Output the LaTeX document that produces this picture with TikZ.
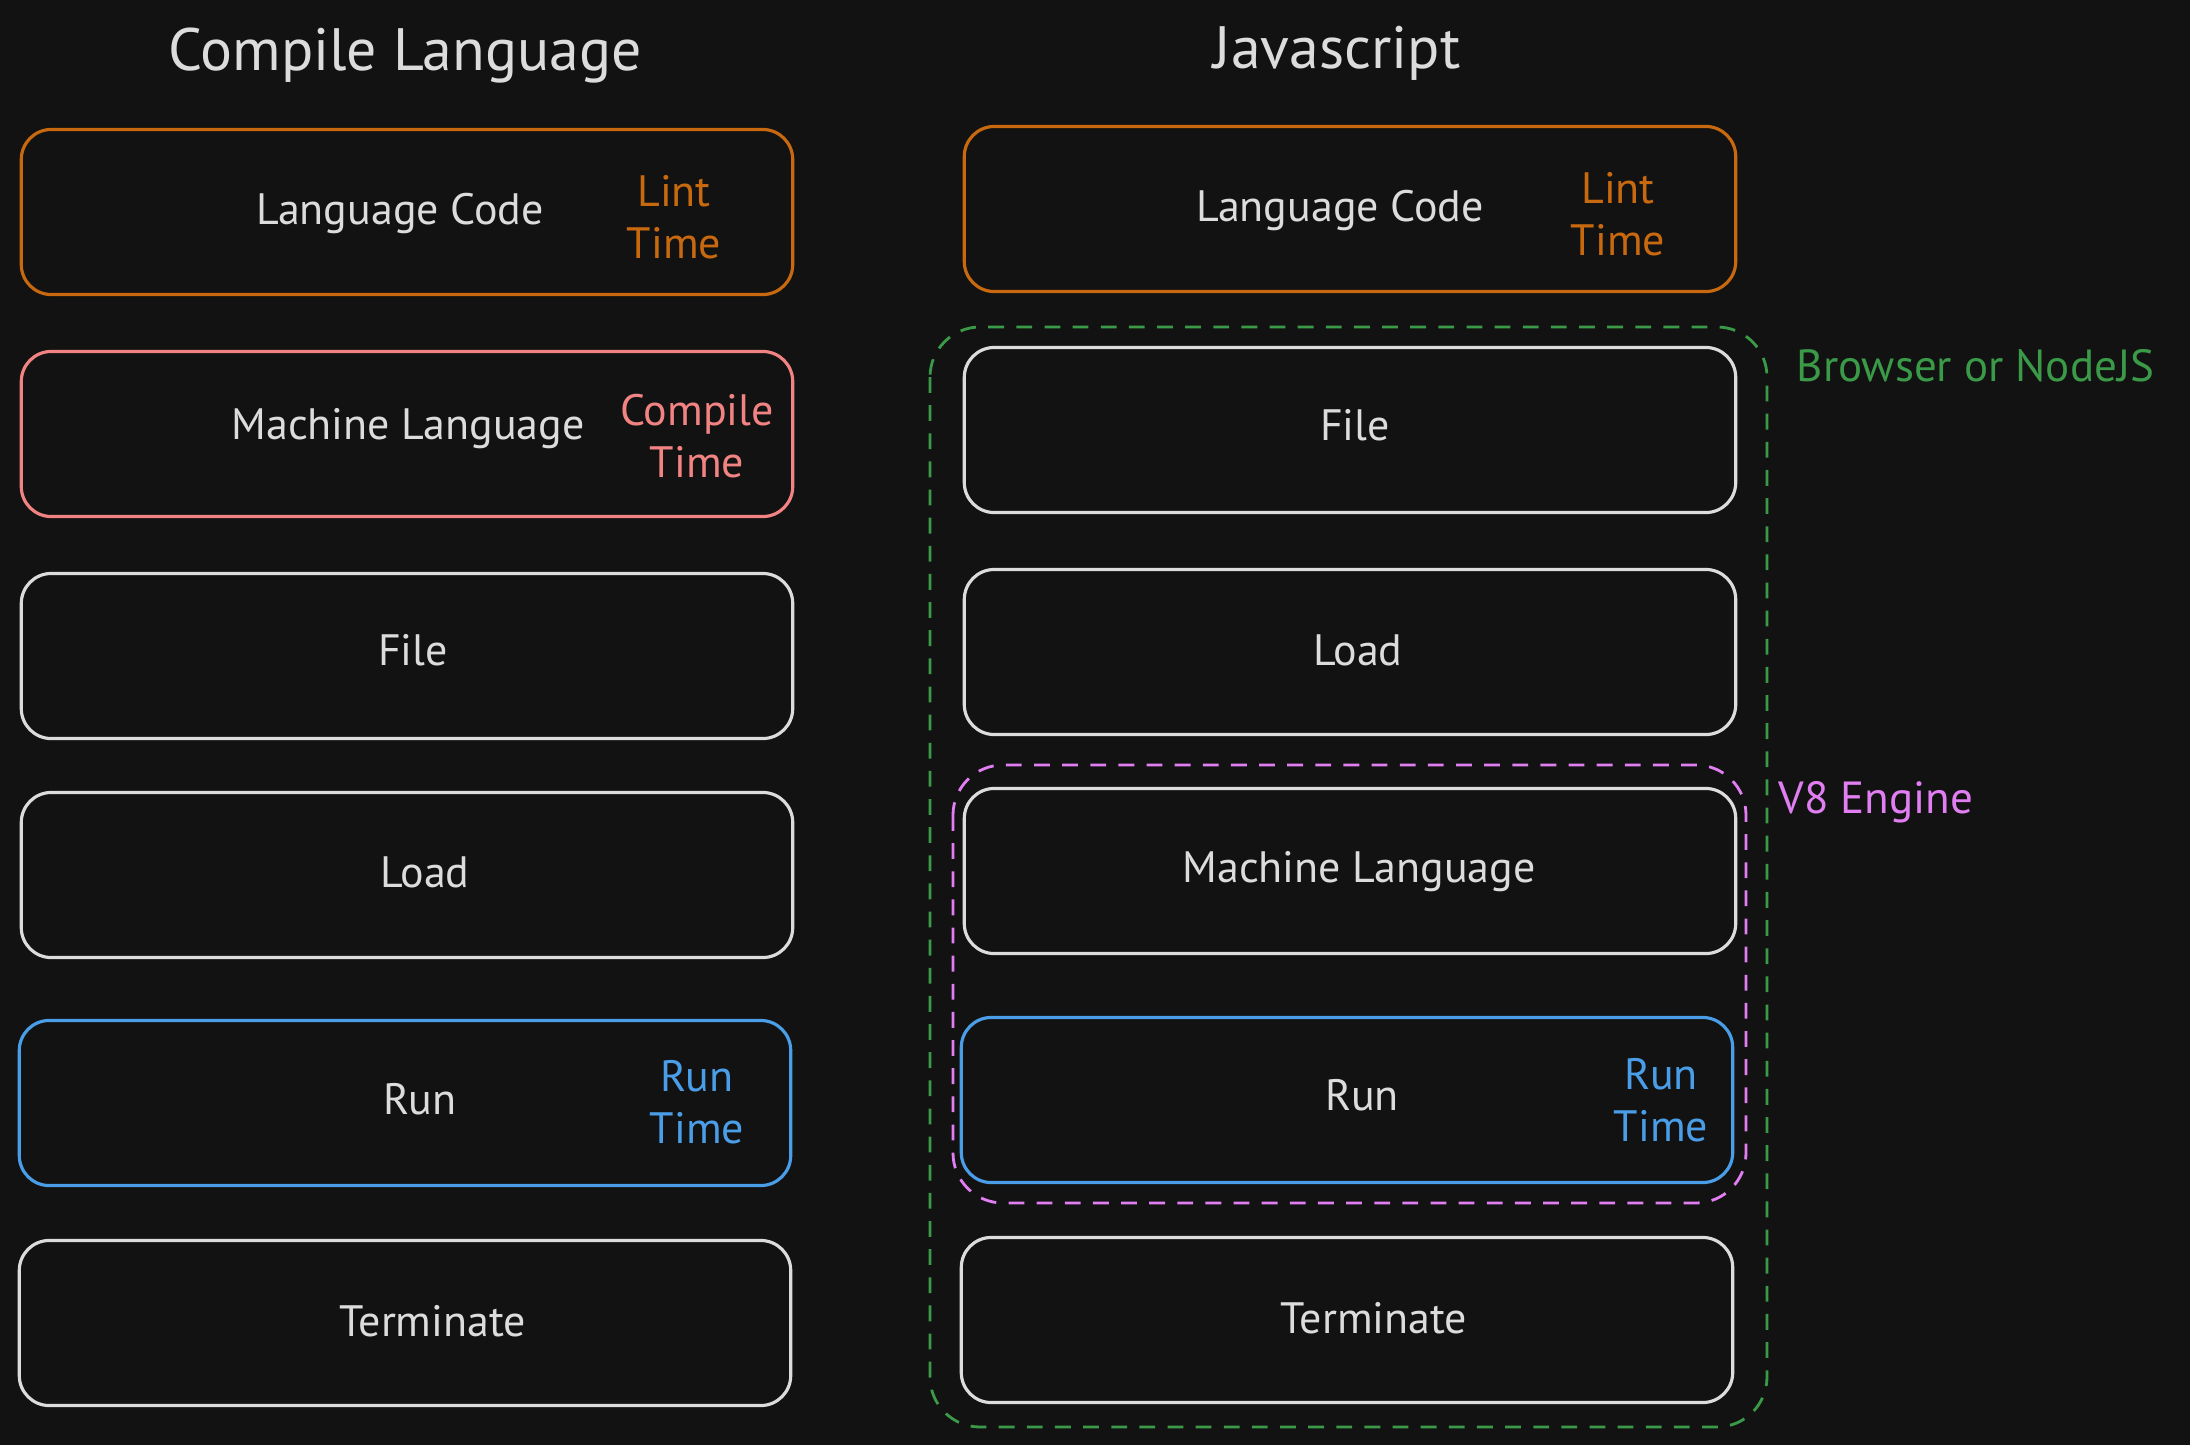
\documentclass[tikz,border=0pt]{standalone}
\usepackage{fontspec}
\setmainfont{PT Sans}
\definecolor{bg}{HTML}{121212}
\definecolor{ink}{HTML}{DCDCDC}
\definecolor{orng}{HTML}{C8690F}
\definecolor{pnk}{HTML}{F28383}
\definecolor{blu}{HTML}{4A9EE8}
\definecolor{grn}{HTML}{3A9A48}
\definecolor{prp}{HTML}{E07EF2}
\tikzset{
  box/.style={draw=#1, line width=0.9pt, rounded corners=0.3cm, minimum width=7.71cm, minimum height=1.65cm, inner sep=0pt},
  box/.default=ink,
  txt/.style={text=ink, font=\fontsize{12.5}{15}\selectfont, inner sep=0pt},
  ttl/.style={text=ink, font=\fontsize{17}{20}\selectfont, inner sep=0pt},
  tag/.style={text=#1, font=\fontsize{12.5}{14.8}\selectfont, align=center, inner sep=0pt},
  grp/.style={draw=#1, line width=0.8pt, dash pattern=on 4.5pt off 3.5pt, rounded corners=0.5cm},
  grplab/.style={text=#1, font=\fontsize{12.8}{15}\selectfont, anchor=west, inner sep=0pt}
}
\begin{document}
\begin{tikzpicture}[x=0.01cm,y=-0.01cm]
\fill[bg] (0,0) rectangle (2190,1445);
\useasboundingbox (0,0) rectangle (2190,1445);
% titles
\node[ttl] (tl) at (405,56) {Compile Language};
\node[ttl] (tr) at (1337,53) {Javascript};
% left column
\node[box=orng] (l1) at (407,212) {};
\node[txt] (l1t) at (400,214) {Language Code};
\node[tag=orng] (l1g) at (674,217) {Lint\\Time};
\node[box=pnk] (l2) at (407,434) {};
\node[txt] (l2t) at (408,429) {Machine Language};
\node[tag=pnk] (l2g) at (697,436) {Compile\\Time};
\node[box] (l3) at (407,656) {};
\node[txt] (l3t) at (413,650) {File};
\node[box] (l4) at (407,875) {};
\node[txt] (l4t) at (425,872) {Load};
\node[box=blu] (l5) at (405,1103) {};
\node[txt] (l5t) at (420,1099) {Run};
\node[tag=blu] (l5g) at (697,1102) {Run\\Time};
\node[box] (l6) at (405,1323) {};
\node[txt] (l6t) at (433,1321) {Terminate};
% right column
\node[box=orng] (r1) at (1350,209) {};
\node[txt] (r1t) at (1340,211) {Language Code};
\node[tag=orng] (r1g) at (1618,214) {Lint\\Time};
\draw[grp=grn] (930,327) rectangle (1767,1427);
\node[grplab=grn] (gl) at (1796,366) {Browser or NodeJS};
\node[box] (r2) at (1350,430) {};
\node[txt] (r2t) at (1355,425) {File};
\node[box] (r3) at (1350,652) {};
\node[txt] (r3t) at (1358,650) {Load};
\draw[grp=prp] (953,765) rectangle (1746,1203);
\node[grplab=prp] (pl) at (1778,802) {V8 Engine};
\node[box] (r4) at (1350,871) {};
\node[txt] (r4t) at (1359,872) {Machine Language};
\node[box=blu] (r5) at (1347,1100) {};
\node[txt] (r5t) at (1362,1095) {Run};
\node[tag=blu] (r5g) at (1661,1100) {Run\\Time};
\node[box] (r6) at (1347,1320) {};
\node[txt] (r6t) at (1374,1318) {Terminate};
\end{tikzpicture}
\end{document}
